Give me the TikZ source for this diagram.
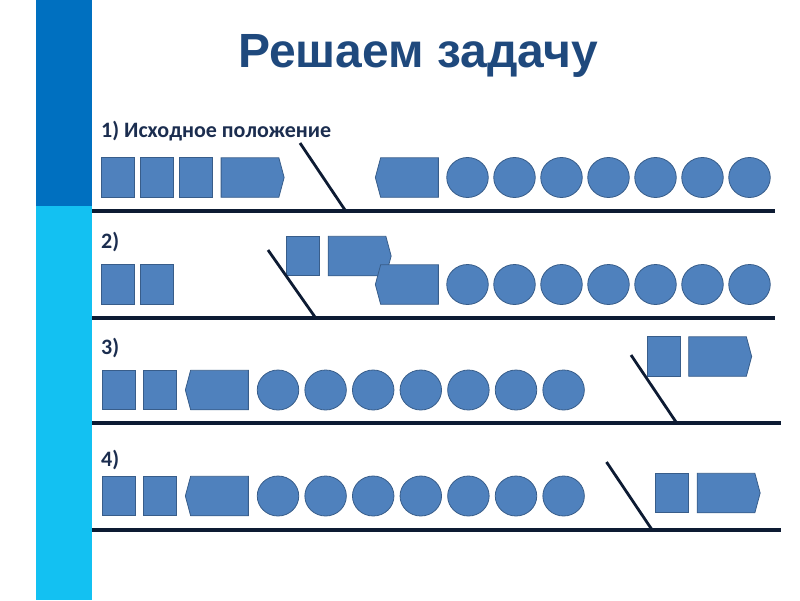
\documentclass[tikz,border=0pt]{standalone}
\usepackage{fontspec}
\setmainfont{Liberation Sans}
\newfontfamily\calfont{Carlito}
\usetikzlibrary{shapes.symbols,shapes.geometric}
\definecolor{barDark}{HTML}{0070C0}
\definecolor{barLight}{HTML}{13C1F2}
\definecolor{titleInk}{HTML}{1F497D}
\definecolor{numInk}{HTML}{1B2D4F}
\definecolor{carFill}{HTML}{4F81BD}
\definecolor{carLine}{HTML}{385D8A}
\definecolor{railInk}{HTML}{0D1B33}

\begin{document}
\begin{tikzpicture}[x=1pt,y=-1pt,
  vagon/.style={draw=carLine, fill=carFill, line width=0.8pt, inner sep=0pt, minimum width=33pt, minimum height=39.5pt},
  lokoR/.style={signal, signal to=east, signal pointer angle=150, draw=carLine, fill=carFill, line width=0.8pt, inner sep=0pt, minimum width=63pt, minimum height=39.5pt},
  lokoL/.style={lokoR, signal to=west},
  shar/.style={ellipse, draw=carLine, fill=carFill, line width=0.8pt, inner sep=0pt, minimum width=41.5pt, minimum height=40pt},
  rail/.style={draw=railInk, line width=3.4pt},
  tupik/.style={draw=railInk, line width=2.8pt},
  num/.style={font=\calfont\bfseries\fontsize{22}{22}\selectfont, text=numInk, anchor=base west, inner sep=0pt},
]
\useasboundingbox (0,0) rectangle (800,600);
% ---- side bar ----
\fill[barDark] (36,0) rectangle (92,206);
\fill[barLight] (36,206) rectangle (92,600);
% ---- title ----
\node[font=\bfseries\fontsize{48}{48}\selectfont, text=titleInk, anchor=base] (title) at (418,67){Решаем задачу};
% ---- row 1 ----
\node[num] (n1) at (101,137){1) Исходное положение};
\node[vagon] (v11) at (118,177.5){};
\node[vagon] (v12) at (156.5,177.5){};
\node[vagon] (v13) at (196,177.5){};
\node[lokoR] (p1) at (250,177.5){};
\node[lokoL] (q1) at (409.5,177.5){};
\foreach \i in {1,...,7}{\node[shar] (a\i) at ({467.5+47*(\i-1)},177.5){};}
\coordinate (t1a) at (300,143);
\coordinate (t1b) at (345,210);
\coordinate (r1w) at (92,211);
\coordinate (r1e) at (775,211);
\draw[tupik] (t1a) -- (t1b);
\draw[rail] (r1w) -- (r1e);
% ---- row 2 ----
\node[num] (n2) at (101,248){2)};
\node[vagon] (v21) at (118,284.5){};
\node[vagon] (v22) at (157,284.5){};
\node[vagon] (v23) at (303,256){};
\node[lokoR] (p2) at (357,256){};
\node[lokoL] (q2) at (409.5,284.5){};
\foreach \i in {1,...,7}{\node[shar] (b\i) at ({467.5+47*(\i-1)},284.5){};}
\coordinate (t2a) at (268,250);
\coordinate (t2b) at (315,317);
\coordinate (r2w) at (92,318);
\coordinate (r2e) at (775,318);
\draw[tupik] (t2a) -- (t2b);
\draw[rail] (r2w) -- (r2e);
% ---- row 3 ----
\node[num] (n3) at (101,354){3)};
\node[vagon] (v31) at (119,390){};
\node[vagon] (v32) at (159.5,390){};
\node[lokoL] (q3) at (219.5,390){};
\foreach \i in {1,...,7}{\node[shar] (c\i) at ({278+47.6*(\i-1)},390){};}
\node[vagon] (v33) at (664,356.5){};
\node[lokoR] (p3) at (717.5,356.5){};
\coordinate (t3a) at (631,355);
\coordinate (t3b) at (676,422);
\coordinate (r3w) at (92,423);
\coordinate (r3e) at (781,423);
\draw[tupik] (t3a) -- (t3b);
\draw[rail] (r3w) -- (r3e);
% ---- row 4 ----
\node[num] (n4) at (101,466){4)};
\node[vagon] (v41) at (119,496){};
\node[vagon] (v42) at (159.5,496){};
\node[lokoL] (q4) at (219.5,496){};
\foreach \i in {1,...,7}{\node[shar] (d\i) at ({278+47.6*(\i-1)},496){};}
\node[vagon] (v43) at (672,493){};
\node[lokoR] (p4) at (726,493){};
\coordinate (t4a) at (606.5,462);
\coordinate (t4b) at (651.5,529);
\coordinate (r4w) at (92,530);
\coordinate (r4e) at (781,530);
\draw[tupik] (t4a) -- (t4b);
\draw[rail] (r4w) -- (r4e);
\end{tikzpicture}
\end{document}
